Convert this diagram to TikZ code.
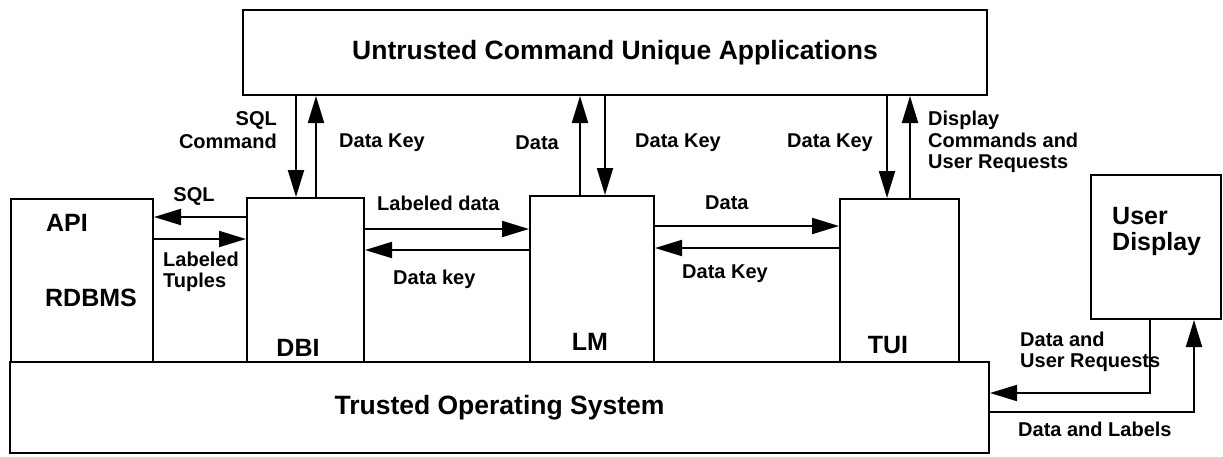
\documentclass[tikz,border=0pt]{standalone}
\usepackage{fontspec}
\setmainfont{Liberation Sans}
\usetikzlibrary{arrows.meta}
\begin{document}
\begin{tikzpicture}[x=1pt,y=-1pt,
  box/.style={draw, line width=2pt, inner sep=0pt},
  big/.style={font=\fontsize{25}{26}\selectfont\bfseries, inner sep=0pt},
  title/.style={font=\fontsize{26.5}{28}\selectfont\bfseries},
  small/.style={font=\fontsize{20}{21.5}\selectfont\bfseries, inner sep=0pt},
  link/.style={line width=2pt, -{Triangle[length=27pt,width=16pt]}},
]
\useasboundingbox (0,0) rectangle (1223,456);

% main blocks
\node[box, title, minimum width=744pt, minimum height=85pt] (uca) at (615,52.5)
  {Untrusted Command Unique Applications};
\node[box, minimum width=142pt, minimum height=163pt] (rdbms) at (82,280.5) {};
\node[box, minimum width=117pt, minimum height=164pt] (dbi) at (305.5,280) {};
\node[box, minimum width=124pt, minimum height=166pt] (lm) at (592,279) {};
\node[box, minimum width=119pt, minimum height=163pt] (tui) at (899.5,280.5) {};
\node[box, title, minimum width=979pt, minimum height=91pt] (os) at (499.5,407.5)
  {Trusted Operating System};
\node[box, minimum width=130pt, minimum height=144pt] (ud) at (1156,247) {};

% block titles
\node[big] (tapi) at (67,223) {API};
\node[big] (trdbms) at (91,298) {RDBMS};
\node[big] (tdbi) at (298,348) {DBI};
\node[big] (tlm) at (590,342) {LM};
\node[big] (ttui) at (888,345) {TUI};
\node[big, anchor=west, align=left] (tud) at (1112,231) {User\\Display};

% links to the application layer
\draw[link] (296,0 |- uca.south) -- (296,0 |- dbi.north);
\draw[link] (316,0 |- dbi.north) -- (316,0 |- uca.south);
\draw[link] (580,0 |- lm.north) -- (580,0 |- uca.south);
\draw[link] (605,0 |- uca.south) -- (605,0 |- lm.north);
\draw[link] (887,0 |- uca.south) -- (887,0 |- tui.north);
\draw[link] (910,0 |- tui.north) -- (910,0 |- uca.south);

\node[small, anchor=east, align=right, font=\fontsize{20}{23}\selectfont\bfseries] (lsql) at (277,130) {SQL\\Command};
\node[small, anchor=west] (ldk1) at (339,143) {Data Key};
\node[small, anchor=east] (ldata1) at (559,143) {Data};
\node[small, anchor=west] (ldk2) at (635,143) {Data Key};
\node[small, anchor=east] (ldk3) at (873,143) {Data Key};
\node[small, anchor=west, align=left] (ldisp) at (928,142) {Display\\Commands and\\User Requests};

% links between the trusted components
\draw[link] (dbi.west |- 0,217) -- (rdbms.east |- 0,217);
\draw[link] (rdbms.east |- 0,239) -- (dbi.west |- 0,239);
\draw[link] (dbi.east |- 0,229) -- (lm.west |- 0,229);
\draw[link] (lm.west |- 0,250) -- (dbi.east |- 0,250);
\draw[link] (lm.east |- 0,226) -- (tui.west |- 0,226);
\draw[link] (tui.west |- 0,248) -- (lm.east |- 0,248);

\node[small] (lsql2) at (194,196) {SQL};
\node[small, anchor=west, align=left] (ltup) at (163,272) {Labeled\\Tuples};
\node[small, anchor=west] (lld) at (377,203) {Labeled data};
\node[small, anchor=west] (ldk4) at (393,279) {Data key};
\node[small, anchor=west] (ldata2) at (705,203) {Data};
\node[small, anchor=west] (ldk5) at (682,274) {Data Key};

% links to the user display
\draw[link] (1150,0 |- ud.south) |- (os.east |- 0,393);
\draw[link] (os.east |- 0,412) -| (1194,0 |- ud.south);

\node[small, anchor=west, align=left] (lreq) at (1020,352) {Data and\\User Requests};
\node[small, anchor=west] (llab) at (1018,429) {Data and Labels};
\end{tikzpicture}
\end{document}
